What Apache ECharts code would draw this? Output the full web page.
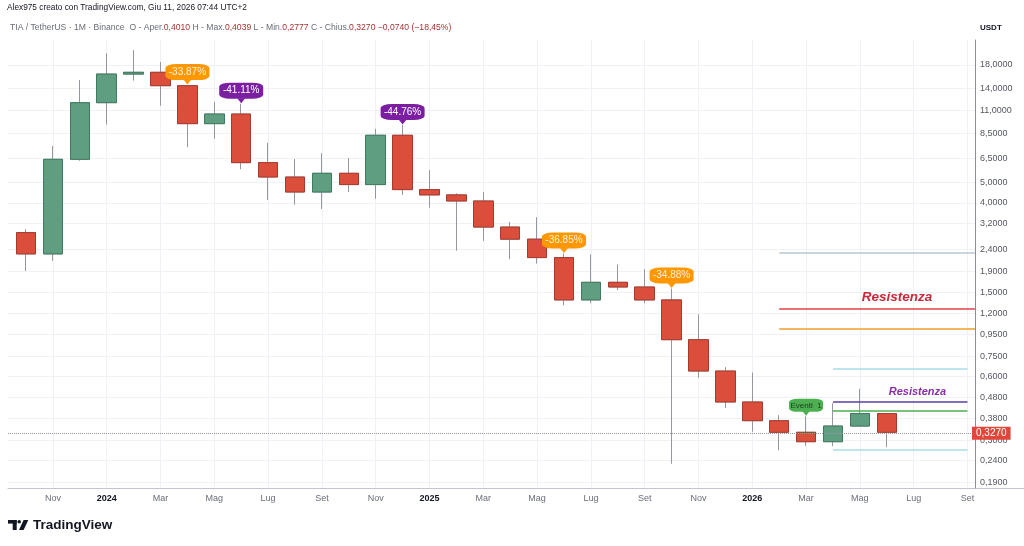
<!DOCTYPE html>
<html>
<head>
<meta charset="utf-8">
<title>TIA / TetherUS 1M</title>
<script src="https://cdn.jsdelivr.net/npm/echarts@6.0.0/dist/echarts.min.js"></script>
<style>
  html, body { margin: 0; padding: 0; background: #fff; }
  #chart { width: 1024px; height: 546px; }
</style>
</head>
<body>
<div id="chart"></div>
<script>
// monthly candles, Ott 2023 -> Giu 2026 (axis runs to Set 2026)
const months = ['Ott', 'Nov', 'Dic', '2024', 'Feb', 'Mar', 'Apr', 'Mag', 'Giu', 'Lug', 'Ago', 'Set',
  'Ott', 'Nov', 'Dic', '2025', 'Feb', 'Mar', 'Apr', 'Mag', 'Giu', 'Lug', 'Ago', 'Set',
  'Ott', 'Nov', 'Dic', '2026', 'Feb', 'Mar', 'Apr', 'Mag', 'Giu', 'Lug', 'Ago', 'Set'];
const monthTicks = [1, 3, 5, 7, 9, 11, 13, 15, 17, 19, 21, 23, 25, 27, 29, 31, 33, 35];

const opens = [2.89, 2.29, 6.43, 11.93, 16.3, 16.62, 14.36, 9.49, 10.54, 6.2, 5.3, 4.5,
  5.52, 4.88, 8.36, 4.62, 4.36, 4.08, 3.07, 2.69, 2.2, 1.386, 1.68, 1.596,
  1.386, 0.898, 0.638, 0.455, 0.371, 0.327, 0.295, 0.35, 0.401];
const closes = [2.29, 6.43, 11.93, 16.3, 16.62, 14.36, 9.49, 10.54, 6.2, 5.3, 4.5, 5.52,
  4.88, 8.36, 4.62, 4.36, 4.08, 3.07, 2.69, 2.2, 1.386, 1.68, 1.596, 1.386,
  0.898, 0.638, 0.455, 0.371, 0.327, 0.295, 0.35, 0.401, 0.327];
const highs = [3.0, 7.44, 15.28, 20.45, 21.2, 18.6, 14.45, 12.06, 11.8, 7.71, 6.45, 6.87,
  6.52, 8.98, 9.35, 5.72, 4.44, 4.5, 3.25, 3.42, 2.3, 2.28, 2.04, 1.94,
  1.57, 1.185, 0.665, 0.627, 0.394, 0.389, 0.449, 0.525, 0.4039];
const lows = [1.9, 2.126, 6.33, 9.39, 15.17, 11.55, 7.33, 8.05, 5.77, 4.13, 3.92, 3.74,
  4.5, 4.18, 4.36, 3.79, 2.37, 2.64, 2.16, 2.06, 1.307, 1.336, 1.545, 1.336,
  0.232, 0.593, 0.426, 0.329, 0.269, 0.282, 0.281, 0.349, 0.2777];

const priceTicks = [18, 14, 11, 8.5, 6.5, 5, 4, 3.2, 2.4, 1.9, 1.5, 1.2, 0.95, 0.75, 0.6, 0.48, 0.38, 0.3, 0.24, 0.19];

// drawn levels on the right side
const levelValues = [2.31, 1.255, 1.015, 0.652, 0.4576, 0.415, 0.269];
const levelStart = [28, 28, 28, 30, 30, 30, 30];
const levelEnd = [35.28, 35.28, 35.28, 35, 35, 35, 35];
const levelColors = ['#b9c7d6', '#e2404a', '#f39c2b', '#a8dde8', '#5a3fa6', '#4caf50', '#a8dde8'];

// callouts above candles
const calloutIdx = [6, 8, 14, 20, 24, 29];
const calloutText = ['-33.87%', '-41.11%', '-44.76%', '-36.85%', '-34.88%', 'Eventi  1'];
const calloutColor = ['#ff9800', '#7b1fa2', '#7b1fa2', '#ff9800', '#ff9800', '#4caf50'];
const calloutTextColor = ['#fff1dc', '#ffffff', '#ffffff', '#fff1dc', '#fff1dc', '#1d3b1f'];

const lastClose = 0.327;
const font = '"Liberation Sans", Arial, sans-serif';
const lg = Math.log10;

const wickData = opens.map((o, i) => [i, lg(o), lg(closes[i]), lg(lows[i]), lg(highs[i])]);
const bodyData = opens.map((o, i) => [i, lg(o), lg(closes[i]),
  lg(Math.min(o, closes[i])), lg(Math.max(o, closes[i]))]);

const calloutPoints = [];
calloutIdx.forEach((idx, k) => {
  const small = calloutText[k].startsWith('Eventi');
  calloutPoints.push({
    coord: [idx, lg(highs[idx])],
    symbol: 'roundRect',
    symbolSize: small ? [34, 13] : [44, 16],
    symbolOffset: [0, small ? -11 : -13],
    itemStyle: { color: calloutColor[k] },
    label: {
      show: true, formatter: calloutText[k], color: calloutTextColor[k],
      fontSize: small ? 8 : 10, fontFamily: font,
    },
  });
  calloutPoints.push({
    coord: [idx, lg(highs[idx])],
    symbol: 'triangle',
    symbolRotate: 180,
    symbolSize: [8, 5],
    symbolOffset: [0, -3],
    itemStyle: { color: calloutColor[k] },
    label: { show: false },
  });
});

const levelLines = levelValues.map((v, k) => [
  { coord: [levelStart[k], lg(v)], lineStyle: { color: levelColors[k], width: 1.5, type: 'solid' } },
  { coord: [levelEnd[k], lg(v)] },
]);
levelLines.push({
  yAxis: lg(lastClose),
  lineStyle: { color: '#9598a1', type: 'dotted', width: 1 },
  label: {
    show: true, position: 'end', distance: -3,
    formatter: '0,3270', color: '#fff', backgroundColor: '#e0463a',
    padding: [2, 4, 1, 4], fontSize: 10, fontFamily: font,
  },
});

const chart = echarts.init(document.getElementById('chart'));
chart.setOption({
  animation: false,
  backgroundColor: '#fff',
  grid: { left: 8, right: 49, top: 40, bottom: 58 },
  xAxis: {
    type: 'value',
    min: -0.67,
    max: 35.28,
    axisLine: { show: true, onZero: false, lineStyle: { color: '#c3c6ce' } },
    axisTick: { show: false, customValues: monthTicks },
    axisLabel: {
      customValues: monthTicks,
      color: '#6a6d78',
      fontSize: 9,
      fontFamily: font,
      margin: 6,
      formatter: (v) => {
        const m = months[Math.round(v)];
        return /^\d{4}$/.test(m) ? '{y|' + m + '}' : m;
      },
      rich: { y: { fontWeight: 'bold', color: '#131722', fontSize: 9, fontFamily: font } },
    },
    splitLine: { show: true, lineStyle: { color: '#eef1f6' } },
  },
  yAxis: {
    type: 'value',
    position: 'right',
    min: -0.7496,
    max: 1.3737,
    axisLine: { show: true, onZero: false, lineStyle: { color: '#8d8f96' } },
    axisTick: { show: false, customValues: priceTicks.map(lg) },
    axisLabel: {
      customValues: priceTicks.map(lg),
      color: '#555861',
      fontSize: 9,
      fontFamily: font,
      margin: 5,
      formatter: (v) => Math.pow(10, v).toFixed(4).replace('.', ','),
    },
    splitLine: { show: true, lineStyle: { color: '#eef1f6' } },
  },
  series: [
    {
      name: 'wick',
      type: 'candlestick',
      encode: { x: 0, y: [1, 2, 3, 4] },
      barWidth: 20,
      data: wickData,
      itemStyle: { color: '#95979e', color0: '#95979e', borderColor: '#95979e', borderColor0: '#95979e', borderWidth: 1 },
      markLine: {
        silent: true,
        symbol: ['none', 'none'],
        label: { show: false },
        data: levelLines,
      },
      markPoint: {
        silent: true,
        symbol: 'circle',
        symbolSize: 1,
        itemStyle: { color: 'rgba(0,0,0,0)' },
        data: [
          {
            coord: [32.38, lg(levelValues[1])],
            label: { show: true, formatter: 'Resistenza', offset: [0, -12], color: '#c62a3c',
              fontSize: 13.5, fontWeight: 'bold', fontStyle: 'italic', fontFamily: font },
          },
          {
            coord: [33.14, lg(levelValues[4])],
            label: { show: true, formatter: 'Resistenza', offset: [0, -10], color: '#8a2fa8',
              fontSize: 11, fontWeight: 'bold', fontStyle: 'italic', fontFamily: font },
          },
        ],
      },
    },
    {
      name: 'TIA / TetherUS',
      type: 'candlestick',
      encode: { x: 0, y: [1, 2, 3, 4] },
      barWidth: 20,
      data: bodyData,
      itemStyle: { color: '#5f9e80', color0: '#dc4e3c', borderColor: '#3f7b5f', borderColor0: '#a63a2d', borderWidth: 1 },
      markPoint: { silent: true, data: calloutPoints },
    },
  ],
  graphic: [
    {
      type: 'text', left: 7, top: 4,
      style: { text: 'Alex975 creato con TradingView.com, Giu 11, 2026 07:44 UTC+2',
        font: '500 8.3px ' + font, fill: '#131722' },
    },
    {
      type: 'text', left: 10, top: 23,
      style: {
        text: '{g|TIA / TetherUS · 1M · Binance  O - Aper.}{r|0,4010}{g| H - Max.}{r|0,4039}{g| L - Min.}{r|0,2777}{g| C - Chius.}{r|0,3270}{r| −0,0740 (−18,45%)}',
        rich: {
          g: { fill: '#6a6d78', font: '8.6px ' + font },
          r: { fill: '#a83232', font: '8.6px ' + font },
        },
      },
    },
    {
      type: 'text', left: 980, top: 24,
      style: { text: 'USDT', font: 'bold 8px ' + font, fill: '#131722' },
    },
    {
      type: 'line', silent: true,
      shape: { x1: 8, y1: 488.5, x2: 1024, y2: 488.5 },
      style: { stroke: '#c3c6ce', lineWidth: 1 },
    },
    // TradingView logo
    { type: 'rect', shape: { x: 8, y: 520, width: 8.7, height: 3.6 }, style: { fill: '#131722' } },
    { type: 'rect', shape: { x: 12.7, y: 520, width: 4, height: 10 }, style: { fill: '#131722' } },
    { type: 'circle', shape: { cx: 19.2, cy: 521.8, r: 1.8 }, style: { fill: '#131722' } },
    { type: 'polygon', shape: { points: [[23.6, 520], [28.3, 520], [23.6, 530], [19, 530]] }, style: { fill: '#131722' } },
    {
      type: 'text', left: 33, top: 518,
      style: { text: 'TradingView', font: 'bold 13.5px ' + font, fill: '#131722' },
    },
  ],
});
</script>
</body>
</html>
